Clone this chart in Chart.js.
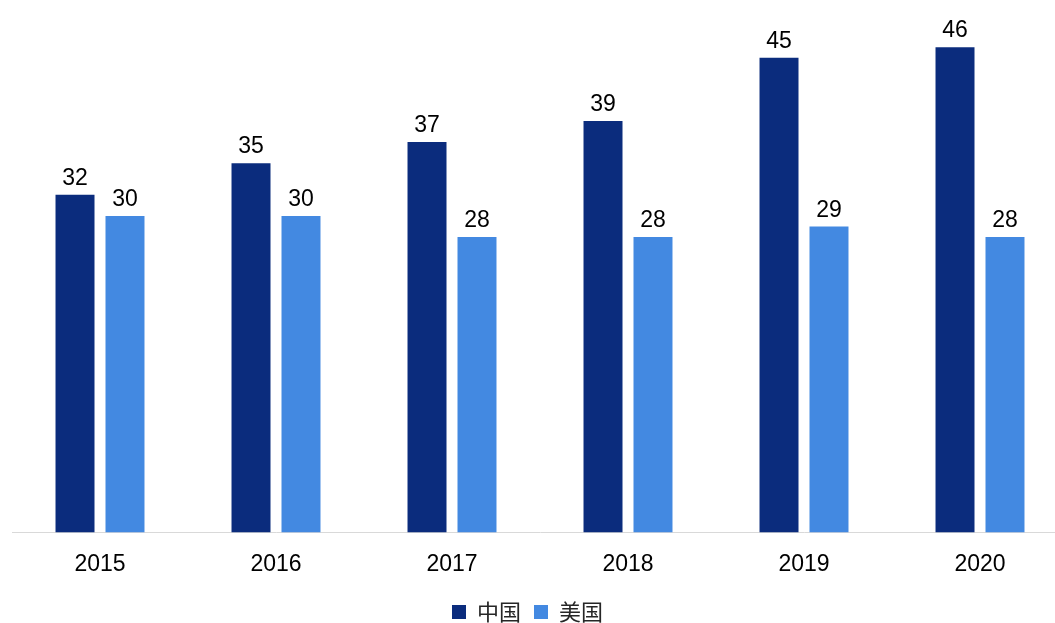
<!DOCTYPE html>
<html>
<head>
<meta charset="utf-8">
<script src="https://cdn.jsdelivr.net/npm/chart.js@4"></script>
<style>
  html, body { margin: 0; padding: 0; background: #fff; overflow: hidden; }
  #wrap { position: relative; left: -28px; width: 1111px; height: 633px; }
</style>
</head>
<body>
<div id="wrap"><canvas id="myChart"></canvas></div>
<script>
// datos
const anios = ['2015', '2016', '2017', '2018', '2019', '2020'];
const china = [32, 35, 37, 39, 45, 46];
const eeuu = [30, 30, 28, 28, 29, 28];
const nombres = ['中国', '美国'];

const fuente = '"Liberation Sans", Arial, "Noto Sans CJK SC", sans-serif';

// etiquetas de valor encima de cada barra
const etiquetasPlugin = {
    id: 'etiquetas',
    afterDatasetsDraw(chart) {
        const ctx = chart.ctx;
        ctx.save();
        ctx.fillStyle = '#000';
        ctx.font = '23px ' + fuente;
        ctx.textAlign = 'center';
        ctx.textBaseline = 'alphabetic';
        chart.data.datasets.forEach((ds, i) => {
            chart.getDatasetMeta(i).data.forEach((bar, j) => {
                ctx.fillText(ds.data[j], bar.x, bar.y - 10);
            });
        });
        ctx.restore();
    }
};

// centrar la leyenda en la ventana visible (no en el area del grafico)
const centrarLeyenda = {
    id: 'centrarLeyenda',
    afterLayout(chart) {
        const lg = chart.legend;
        if (!lg) return;
        const centroVisible = 28 + 1055 / 2;
        const dx = centroVisible - (lg.left + lg.right) / 2;
        lg.left += dx;
        lg.right += dx;
    }
};

const ctx = document.getElementById('myChart').getContext('2d');
const myChart = new Chart(ctx, {
    type: 'bar',
    data: {
        labels: anios,
        datasets: [
            { label: nombres[0], data: china, backgroundColor: '#0b2c7d', borderWidth: 0 },
            { label: nombres[1], data: eeuu, backgroundColor: '#4389e1', borderWidth: 0 }
        ]
    },
    options: {
        responsive: true,
        maintainAspectRatio: false,
        animation: false,
        categoryPercentage: 0.568,
        barPercentage: 0.78,
        layout: { padding: { top: 5, left: 40, right: 15, bottom: 0 } },
        scales: {
            x: {
                grid: { display: false },
                border: { display: true, color: '#d9d9d9', width: 1 },
                ticks: { color: '#000', font: { size: 23, family: fuente }, padding: 10 }
            },
            y: {
                display: false,
                min: 0,
                max: 50
            }
        },
        plugins: {
            legend: {
                position: 'bottom',
                onClick: null,
                labels: {
                    color: '#262626',
                    font: { size: 22, family: '"Noto Sans CJK SC", sans-serif' },
                    boxWidth: 14,
                    boxHeight: 14,
                    padding: 13
                }
            },
            tooltip: { enabled: false }
        }
    },
    plugins: [etiquetasPlugin, centrarLeyenda]
});
</script>
</body>
</html>
